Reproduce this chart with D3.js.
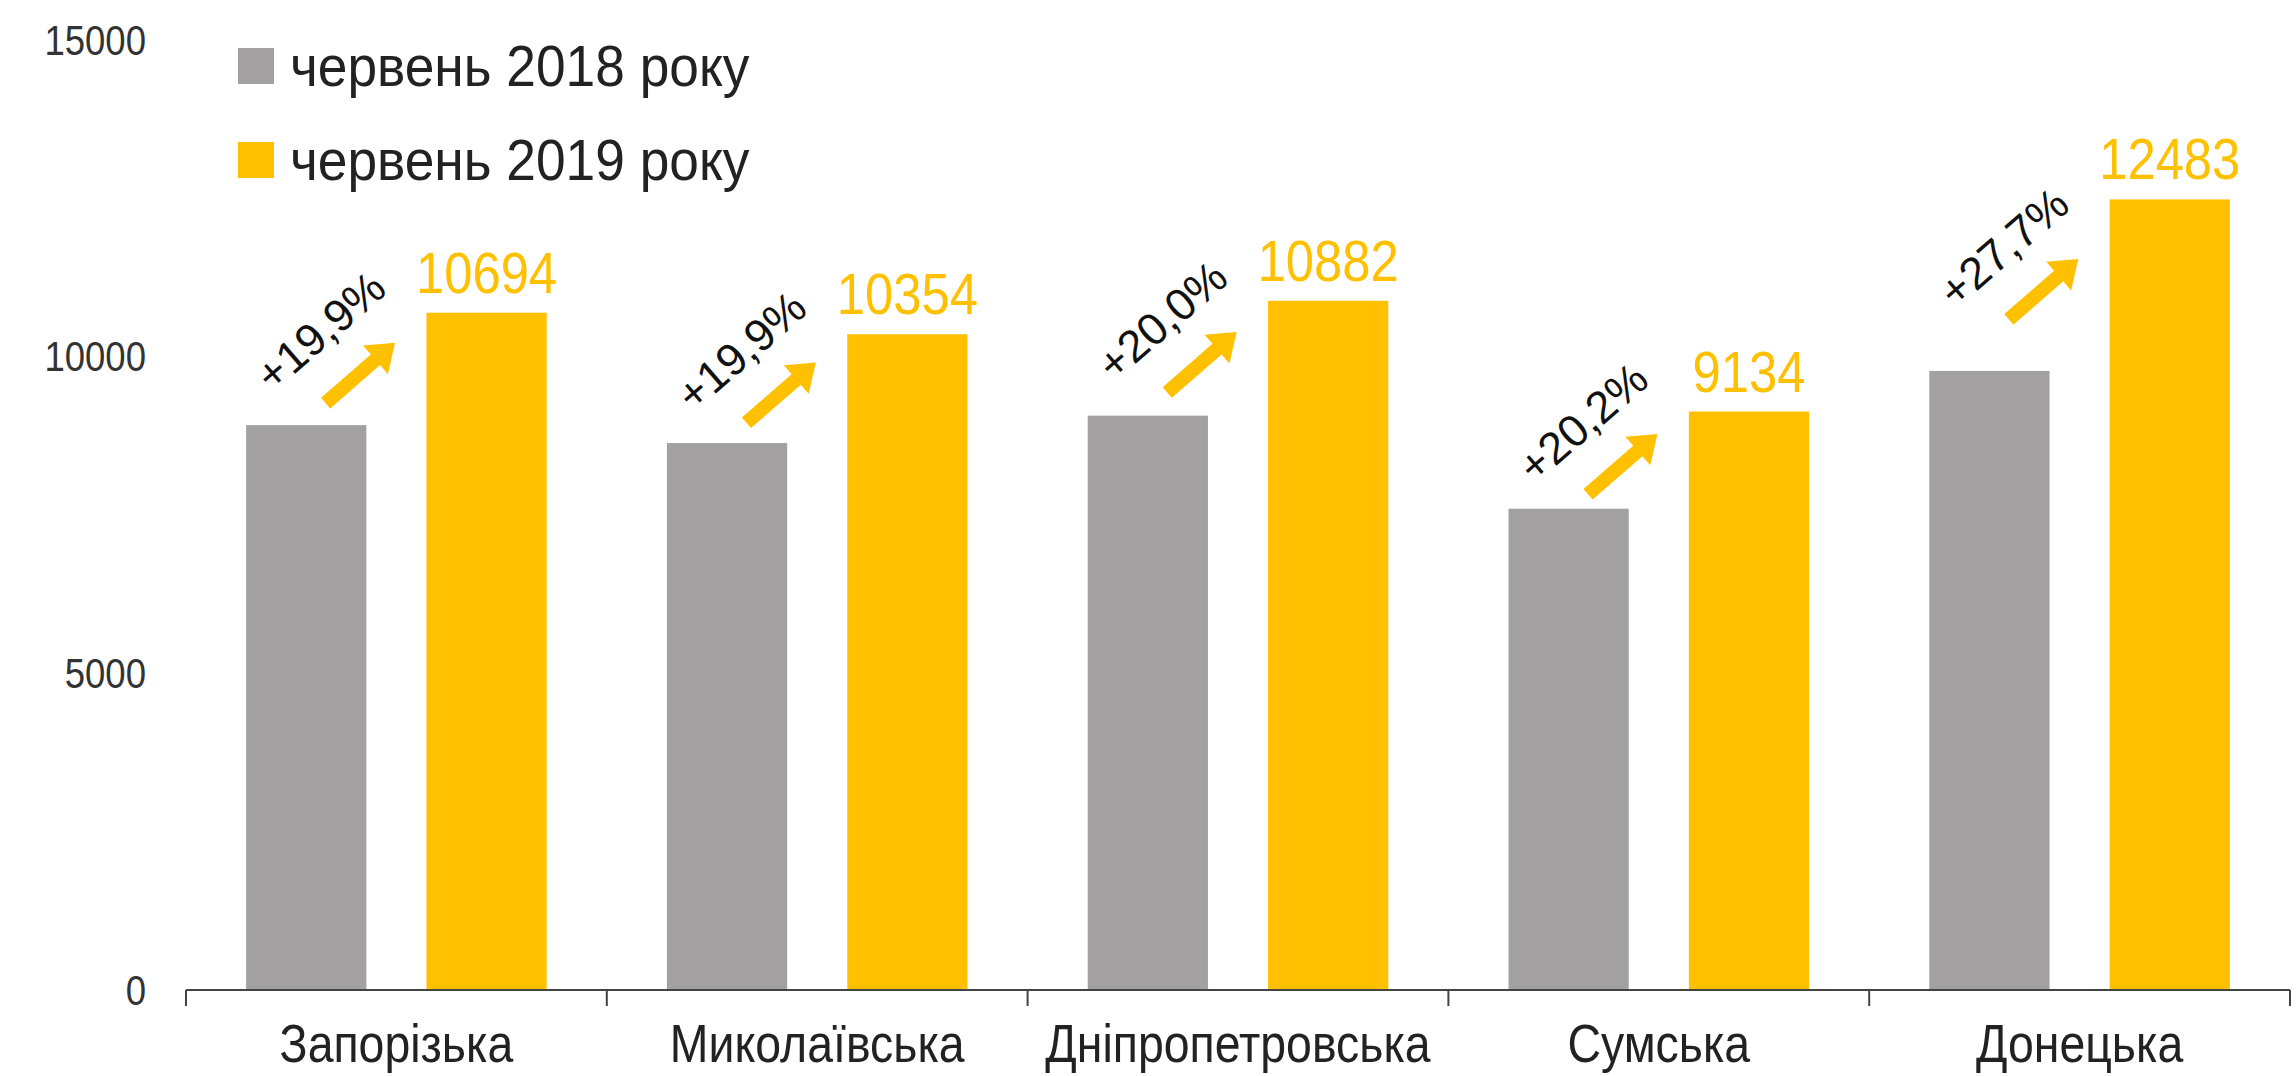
<!DOCTYPE html>
<html>
<head>
<meta charset="utf-8">
<script src="https://cdn.jsdelivr.net/npm/d3@7"></script>
<style>
  html, body { margin: 0; padding: 0; background: #fff; }
  svg { display: block; }
</style>
</head>
<body>
<svg id="chart" width="2296" height="1076"></svg>
<script>
// ---- data ----
const categories = ["Запорізька", "Миколаївська", "Дніпропетровська", "Сумська", "Донецька"];
const values2018 = [8919, 8636, 9068, 7599, 9775];
const values2019 = [10694, 10354, 10882, 9134, 12483];
const growthLabels = ["+19,9%", "+19,9%", "+20,0%", "+20,2%", "+27,7%"];
const seriesNames = ["червень 2018 року", "червень 2019 року"];
const yTicks = [0, 5000, 10000, 15000];

// ---- layout ----
const plotLeft = 186, plotRight = 2290, plotTop = 40, plotBottom = 990;
const grey = "#A2A0A1", yellow = "#FFC000", textDark = "#222222";
const FONT = "'Liberation Sans', Arial, sans-serif";

const svg = d3.select("#chart");

const x = d3.scaleBand().domain(categories).range([plotLeft, plotRight]).paddingInner(0).paddingOuter(0);
const y = d3.scaleLinear().domain([0, 15000]).range([plotBottom, plotTop]);
const unit = x.bandwidth() / 7;
const bw = unit * 2;

// y tick labels (no axis line)
svg.append("g").selectAll("text").data(yTicks).join("text")
  .attr("transform", d => `translate(146,${y(d)}) scale(0.87,1)`)
  .attr("dy", "0.35em")
  .attr("text-anchor", "end")
  .attr("font-family", FONT)
  .attr("font-size", 42)
  .attr("fill", "#333")
  .text(d => d);

// bars
const g = svg.append("g");
g.selectAll("rect.b18").data(categories).join("rect")
  .attr("class", "b18")
  .attr("x", d => x(d) + unit)
  .attr("width", bw)
  .attr("y", (d, i) => y(values2018[i]))
  .attr("height", (d, i) => y(0) - y(values2018[i]))
  .attr("fill", grey);
g.selectAll("rect.b19").data(categories).join("rect")
  .attr("class", "b19")
  .attr("x", d => x(d) + unit * 4)
  .attr("width", bw)
  .attr("y", (d, i) => y(values2019[i]))
  .attr("height", (d, i) => y(0) - y(values2019[i]))
  .attr("fill", yellow);

// x axis with ticks at band boundaries
const xAxisG = svg.append("g").attr("transform", `translate(0,${plotBottom})`);
xAxisG.append("line").attr("x1", plotLeft).attr("x2", plotRight).attr("y1", 0).attr("y2", 0)
  .attr("stroke", "#444").attr("stroke-width", 2);
const boundaries = categories.map(c => x(c)).concat([plotRight]);
xAxisG.selectAll("line.tk").data(boundaries).join("line")
  .attr("class", "tk")
  .attr("x1", d => d).attr("x2", d => d).attr("y1", 0).attr("y2", 16)
  .attr("stroke", "#444").attr("stroke-width", 2);
xAxisG.selectAll("text").data(categories).join("text")
  .attr("transform", d => `translate(${x(d) + x.bandwidth() / 2},72) scale(0.86,1)`)
  .attr("text-anchor", "middle")
  .attr("font-family", FONT)
  .attr("font-size", 54)
  .attr("fill", textDark)
  .text(d => d);

// value labels on 2019 bars
g.selectAll("text.val").data(categories).join("text")
  .attr("class", "val")
  .attr("transform", (d, i) => `translate(${x(d) + unit * 5},${y(values2019[i]) - 20}) scale(0.89,1)`)
  .attr("text-anchor", "middle")
  .attr("font-family", FONT)
  .attr("font-size", 57)
  .attr("fill", yellow)
  .text((d, i) => values2019[i]);

// growth arrows + labels
const angle = -41;
const arrowLen = 92, shaft = 14, headW = 38, headL = 26;
const arrowPath = `M${-arrowLen/2},${-shaft/2} L${arrowLen/2 - headL},${-shaft/2} L${arrowLen/2 - headL},${-headW/2} L${arrowLen/2},0 L${arrowLen/2 - headL},${headW/2} L${arrowLen/2 - headL},${shaft/2} L${-arrowLen/2},${shaft/2} Z`;
categories.forEach((c, i) => {
  const cx = x(c) + unit * 3 - 6;
  const cy = (y(values2018[i]) + y(values2019[i])) / 2 + 4;
  svg.append("path")
    .attr("d", arrowPath)
    .attr("transform", `translate(${cx},${cy}) rotate(${angle})`)
    .attr("fill", yellow);
  svg.append("text")
    .attr("transform", `translate(${cx - 40},${cy - 42}) rotate(${angle})`)
    .attr("text-anchor", "middle")
    .attr("dy", "0.35em")
    .attr("font-family", FONT)
    .attr("font-size", 45)
    .attr("fill", "#111")
    .text(growthLabels[i]);
});

// legend
const legend = svg.append("g");
[grey, yellow].forEach((col, i) => {
  const ly = 66 + i * 94;
  legend.append("rect").attr("x", 238).attr("y", ly - 18).attr("width", 36).attr("height", 36).attr("fill", col);
  legend.append("text")
    .attr("transform", `translate(290,${ly}) scale(0.935,1)`)
    .attr("dy", "0.35em")
    .attr("font-family", FONT)
    .attr("font-size", 57)
    .attr("fill", textDark)
    .text(seriesNames[i]);
});
</script>
</body>
</html>
